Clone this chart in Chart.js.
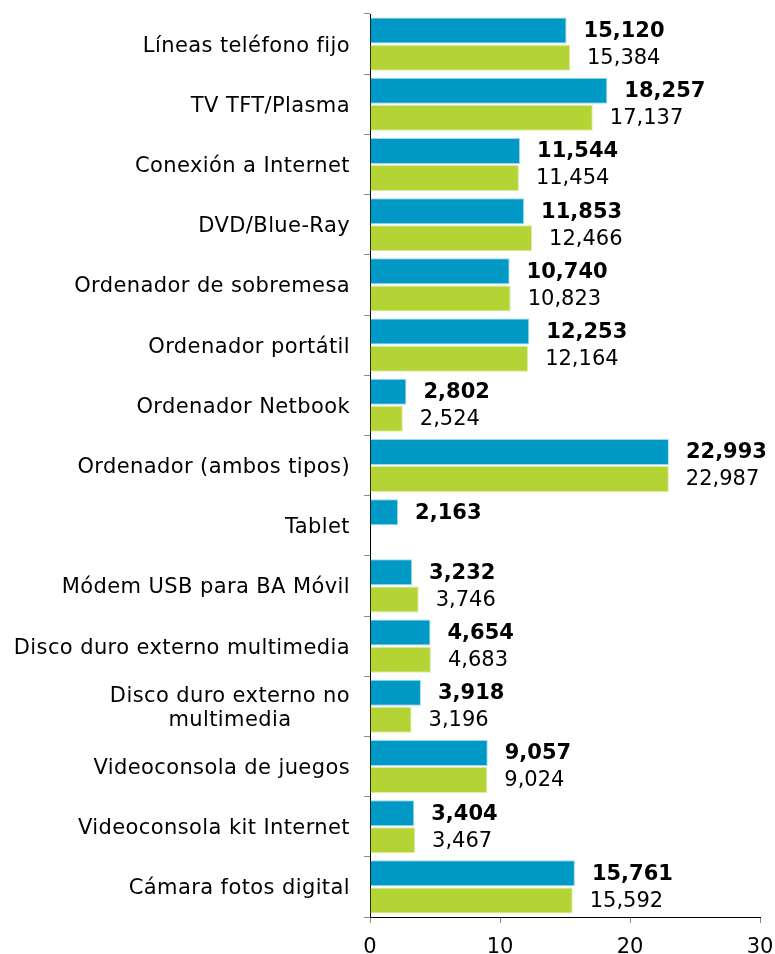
<!DOCTYPE html>
<html><head><meta charset="utf-8">
<script src="https://cdn.jsdelivr.net/npm/chart.js@4/dist/chart.umd.min.js"></script>
<style>html,body{margin:0;padding:0;background:#fff;}#wrap{width:775px;height:954px;}</style>
</head><body><div id="wrap"><canvas id="c" width="775" height="954"></canvas></div>
<script>
const categories = [
  "Líneas teléfono fijo",
  "TV TFT/Plasma",
  "Conexión a Internet",
  "DVD/Blue-Ray",
  "Ordenador de sobremesa",
  "Ordenador portátil",
  "Ordenador Netbook",
  "Ordenador (ambos tipos)",
  "Tablet",
  "Módem USB para BA Móvil",
  "Disco duro externo multimedia",
  ["Disco duro externo no", "multimedia"],
  "Videoconsola de juegos",
  "Videoconsola kit Internet",
  "Cámara fotos digital"
];
const seriesBlue = [15.120, 18.257, 11.544, 11.853, 10.740, 12.253, 2.802, 22.993, 2.163, 3.232, 4.654, 3.918, 9.057, 3.404, 15.761];
const seriesGreen = [15.384, 17.137, 11.454, 12.466, 10.823, 12.164, 2.524, 22.987, null, 3.746, 4.683, 3.196, 9.024, 3.467, 15.592];
const xTicks = [0, 10, 20, 30];

const FONT = '"DejaVu Sans", Verdana, sans-serif';
const fmt = v => v.toFixed(3).replace('.', ',');

const labelPlugin = {
  id: 'valueLabels',
  afterDatasetsDraw(chart) {
    const ctx = chart.ctx;
    ctx.save();
    ctx.textBaseline = 'middle';
    ctx.textAlign = 'left';
    ctx.fillStyle = '#000';
    chart.data.datasets.forEach((ds, di) => {
      const meta = chart.getDatasetMeta(di);
      ctx.font = (di === 0 ? 'bold ' : '') + '21px ' + FONT;
      meta.data.forEach((el, i) => {
        const v = ds.data[i];
        if (v === null || v === undefined) return;
        ctx.fillText(fmt(v), el.x + 17, el.y + 1);
      });
    });
    ctx.restore();
  }
};

const catLabelPlugin = {
  id: 'catLabels',
  afterDraw(chart) {
    const ctx = chart.ctx;
    const ys = chart.scales.y;
    ctx.save();
    ctx.font = '21px ' + FONT;
    if ('letterSpacing' in ctx) ctx.letterSpacing = '0.4px';
    ctx.fillStyle = '#000';
    ctx.textBaseline = 'middle';
    const right = ys.right - 20;
    categories.forEach((lab, i) => {
      const y = ys.getPixelForValue(i) + 2;
      if (Array.isArray(lab)) {
        const w = Math.max(...lab.map(l => ctx.measureText(l).width));
        const cx = right - w / 2;
        ctx.textAlign = 'center';
        const lh = 24;
        lab.forEach((l, k) => ctx.fillText(l, cx, y + (k - (lab.length - 1) / 2) * lh));
      } else {
        ctx.textAlign = 'right';
        ctx.fillText(lab, right, y);
      }
    });
    ctx.restore();
  }
};

new Chart(document.getElementById('c'), {
  type: 'bar',
  data: {
    labels: categories,
    datasets: [
      { label: 'A', data: seriesBlue, backgroundColor: '#0098c5', borderColor: '#9fd8ec', borderWidth: 1,
        categoryPercentage: 0.9, barPercentage: 0.96 },
      { label: 'B', data: seriesGreen, backgroundColor: '#b4d335', borderColor: '#dcedA0', borderWidth: 1,
        categoryPercentage: 0.9, barPercentage: 0.96 }
    ]
  },
  options: {
    indexAxis: 'y',
    responsive: false,
    animation: false,
    layout: { padding: { top: 14, right: 0, left: 0, bottom: 0 } },
    plugins: { legend: { display: false }, tooltip: { enabled: false } },
    scales: {
      y: {
        type: 'category',
        grid: { display: true, drawOnChartArea: false, offset: true, tickLength: 6, color: '#888' },
        border: { color: '#000', width: 1 },
        ticks: { display: false },
        afterFit(s) { s.width = 370; s.paddingTop = 0; s.paddingBottom = 0; }
      },
      x: {
        min: 0, max: 30,
        afterBuildTicks(s) { s.ticks = xTicks.map(v => ({ value: v })); },
        grid: { display: true, drawOnChartArea: false, tickLength: 6, color: '#888' },
        border: { color: '#000', width: 1 },
        ticks: { font: { family: FONT, size: 21 }, color: '#000', padding: 12, maxRotation: 0 },
        afterFit(s) { s.height = 37; s.paddingLeft = 0; s.paddingRight = 15; }
      }
    }
  },
  plugins: [labelPlugin, catLabelPlugin]
});
</script></body></html>
